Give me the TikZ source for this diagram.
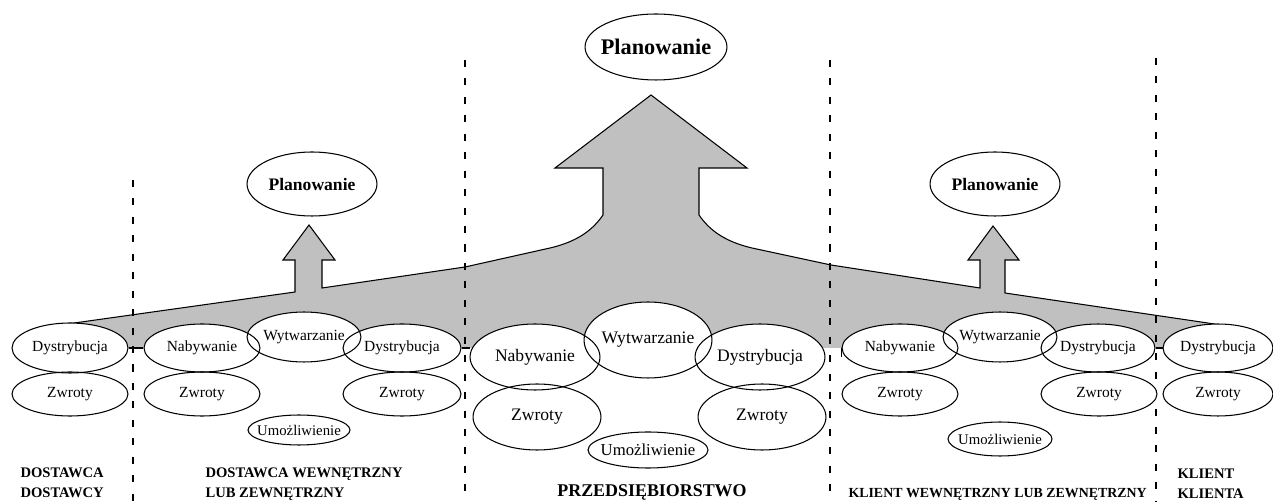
\documentclass[tikz,border=0pt]{standalone}
\usepackage{fontspec}
\setmainfont{Liberation Serif}
\usetikzlibrary{shapes.geometric}
\definecolor{greyfill}{HTML}{C0C0C0}
\newcommand\fsm{\fontsize{8.8}{10}\selectfont}
\newcommand\fmd{\fontsize{10}{12}\selectfont}
\newcommand\fum{\fontsize{8.4}{10}\selectfont}
\newcommand\fumc{\fontsize{9.5}{11}\selectfont}
\newcommand\fpl{\fontsize{10}{12}\selectfont\bfseries}
\newcommand\fplc{\fontsize{12.7}{15}\selectfont\bfseries}
\newcommand\ellipsedata{%
 dL/70/348/58/25/\fsm/Dystrybucja,
 zL/70/394/58/22/\fsm/Zwroty,
 nB/202/348/58/24/\fsm/Nabywanie,
 wB/304/337/57/25/\fsm/Wytwarzanie,
 dB/402/348/59/24/\fsm/Dystrybucja,
 zBa/202/394/58/22/\fsm/Zwroty,
 zBb/402/394/59/22/\fsm/Zwroty,
 uB/299/430/51/15/\fum/Umożliwienie,
 pB/312/184/65/32/\fpl/Planowanie,
 nC/535/357/65/33/\fmd/Nabywanie,
 wC/648/340/64/38/\fmd/Wytwarzanie,
 dC/760/357/65/33/\fmd/Dystrybucja,
 zCa/537/417/64/33/\fmd/Zwroty,
 zCb/762/417/64/33/\fmd/Zwroty,
 uC/648/450/60/18/\fumc/Umożliwienie,
 pC/656/47/71/33/\fplc/Planowanie,
 nR/900/348/58/24/\fsm/Nabywanie,
 wR/1000/337/57/25/\fsm/Wytwarzanie,
 dR/1098/348/57/24/\fsm/Dystrybucja,
 zRa/900/394/58/22/\fsm/Zwroty,
 zRb/1099/394/58/22/\fsm/Zwroty,
 uR/1000/439/52/17/\fum/Umożliwienie,
 pR/995/184/65/32/\fpl/Planowanie,
 dF/1218/348/55/24/\fsm/Dystrybucja,
 zF/1218/394/55/22/\fsm/Zwroty}
\newcommand\toppath{(67,324) -- (295,292) -- (295,260) -- (283,260) -- (309,225) -- (335,260) -- (322,260) -- (322,288)
 -- (465,267) -- (550,248) .. controls (580,241) and (594,228) .. (603,215) -- (603,168) -- (555,168) -- (651,95)
 -- (747,168) -- (699,168) -- (699,215) .. controls (708,228) and (722,241) .. (752,248) -- (831,265)
 -- (980,288) -- (980,260) -- (968,260) -- (993,226) -- (1019,260) -- (1005,260) -- (1005,293) -- (1228,326)}
\begin{document}
\begin{tikzpicture}[x=0.02cm,y=-0.02cm, line width=0.6pt,
  ell/.style 2 args={ellipse, draw, minimum width=#1*0.04cm, minimum height=#2*0.04cm, inner sep=0pt},
  sepline/.style={dash pattern=on 4pt off 6.5pt, line width=0.6pt},
  lab/.style={font=\fontsize{8.3}{11.4}\selectfont\bfseries, inner sep=0pt, align=left}]
\useasboundingbox (0,0) rectangle (1273,502);
% grey planning flow
\fill[greyfill] \toppath -- (1228,348) -- (67,348) -- cycle;
\draw \toppath;
% dashed separators
\draw[sepline] (133,180) -- (133,502);
\draw[sepline] (465,60) -- (465,502);
\draw[sepline] (830,60) -- (830,502);
\draw[sepline] (1156,58) -- (1156,502);
% white under ellipses
\foreach \nm/\xx/\yy/\rx/\ry/\ft/\tx in \ellipsedata
  {\fill[white] (\xx,\yy) ellipse [x radius=\rx, y radius=\ry];}
% ellipses with texts
\foreach \nm/\xx/\yy/\rx/\ry/\ft/\tx in \ellipsedata
  {\node[ell={\rx}{\ry}] (\nm) at (\xx,\yy) {\ft\makebox[0pt]{\tx}};}
% links between stages
\draw (dL.east) -- (nB.west);
\draw (dB.east) -- (dB.east -| nC.west);
\draw (dC.east -| nR.west) -- (nR.west);
\draw (dR.east) -- (dF.west);
% labels
\node[lab, anchor=base west] (l1) at (20,498) {DOSTAWCA\\DOSTAWCY};
\node[lab, anchor=base west] (l2) at (205,498) {DOSTAWCA WEWNĘTRZNY\\LUB ZEWNĘTRZNY};
\node[font=\fontsize{10.2}{12}\selectfont\bfseries, inner sep=0pt, anchor=base] (l3) at (652,497) {PRZEDSIĘBIORSTWO};
\node[lab, font=\fontsize{7.9}{11.4}\selectfont\bfseries, anchor=base west] (l4) at (848,498) {KLIENT WEWNĘTRZNY LUB ZEWNĘTRZNY};
\node[lab, anchor=base west] (l5) at (1177,499) {KLIENT\\KLIENTA};
\end{tikzpicture}
\end{document}
